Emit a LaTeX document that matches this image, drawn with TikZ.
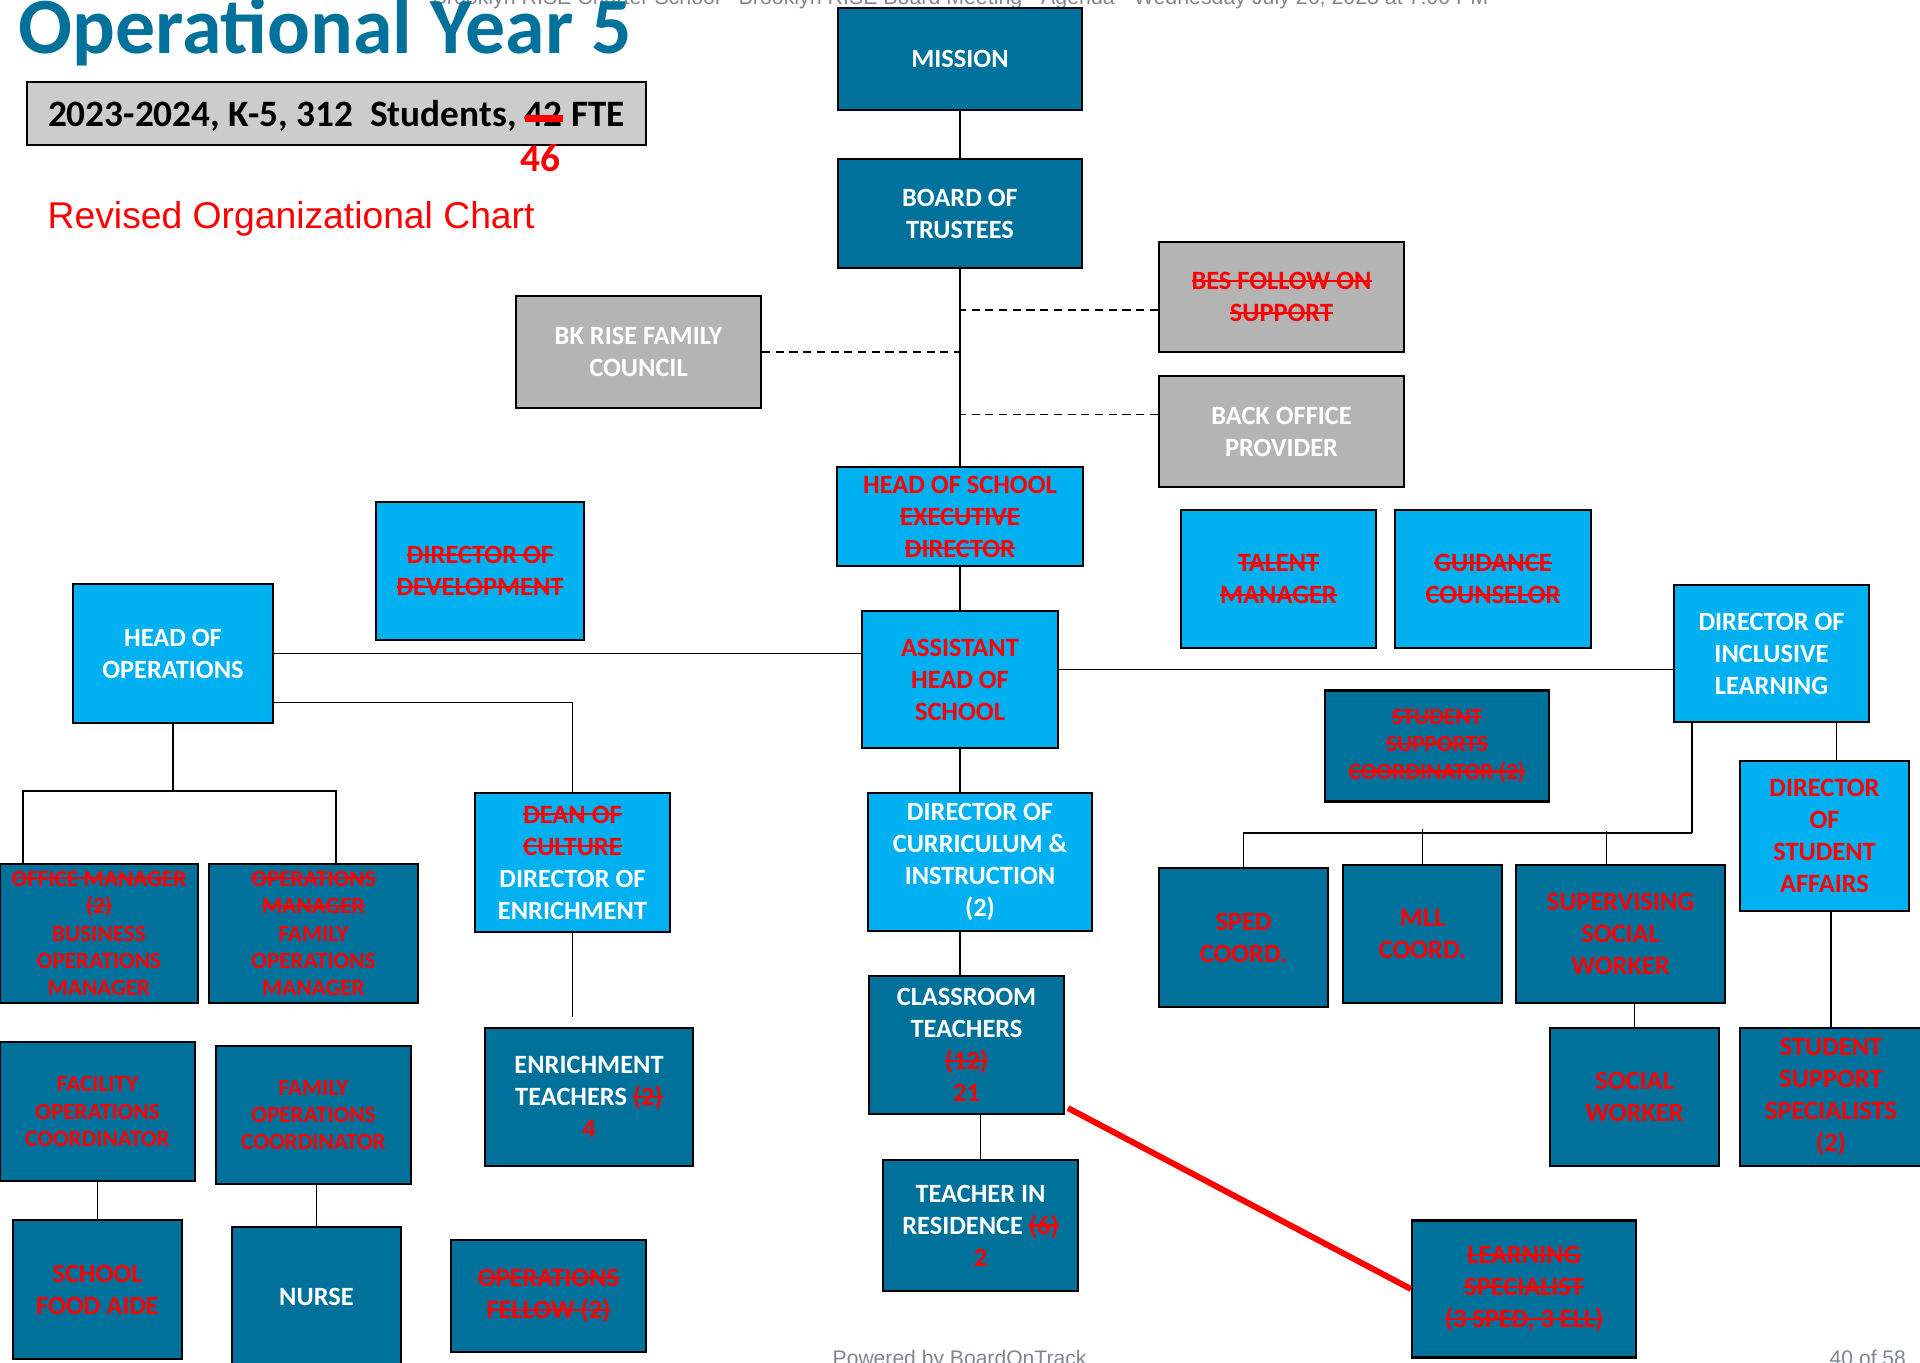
\documentclass[tikz,border=0pt]{standalone}
\usepackage{fontspec}
\setmainfont{Carlito}
\newfontfamily\arialfont{Liberation Sans}
\usetikzlibrary{calc}
\definecolor{darkteal}{RGB}{0,113,154}
\definecolor{skyblue}{RGB}{0,176,240}
\definecolor{boxgray}{RGB}{180,180,180}
\definecolor{statgray}{RGB}{204,204,204}
\definecolor{notegray}{RGB}{128,133,143}
\newsavebox{\strikebox}
\newcommand{\strk}[1]{\sbox{\strikebox}{#1}\usebox{\strikebox}\llap{\rule[0.29em]{\wd\strikebox}{0.6pt}}}
\newcommand{\redstrk}[1]{\sbox{\strikebox}{#1}\usebox{\strikebox}\llap{\textcolor{red}{\rule[1.4pt]{\wd\strikebox}{1.8pt}}}}
\newcommand{\boxfont}{\bfseries\fontsize{7.5}{9.1}\selectfont}
\newcommand{\smallboxfont}{\bfseries\fontsize{6.6}{7.8}\selectfont}
\newcommand{\rd}[1]{\textcolor{red}{#1}}
\tikzset{
  orgbox/.style={draw=black, line width=0.6pt, inner sep=0pt, align=center, text=white, font=\boxfont},
  darkbox/.style={orgbox, fill=darkteal},
  bluebox/.style={orgbox, fill=skyblue},
  greybox/.style={orgbox, fill=boxgray},
  redtext/.style={text=red},
  smalltext/.style={font=\smallboxfont},
  boxsize/.style 2 args={minimum width=#1*0.01cm, minimum height=#2*0.01cm},
  link/.style={line width=0.55pt},
  dashlink/.style={link, dash pattern=on 2.3pt off 1.6pt},
}

\begin{document}
\begin{tikzpicture}[x=0.01cm, y=-0.01cm]
\useasboundingbox (0,0) rectangle (1920,1362);
\clip (0,0) rectangle (1920,1362);
\node[anchor=base west, inner sep=0pt, text=notegray, font=\arialfont\fontsize{6.07}{7}\selectfont] (header) at (432,4) {Brooklyn RISE Charter School - Brooklyn RISE Board Meeting - Agenda - Wednesday July 26, 2023 at 7:00 PM};
\node[anchor=base west, inner sep=0pt, text=darkteal, font=\bfseries\fontsize{22.7}{26}\selectfont] (title) at (18,53) {Operational Year 5};
\node[draw=black, line width=0.6pt, fill=statgray, boxsize={619}{63}, inner sep=0pt, text depth=0pt, font=\bfseries\fontsize{10.6}{12}\selectfont] (stats) at (336.5,113.5) {2023-2024, K-5, 312~~Students, \redstrk{42} FTE};
\node[text=red, font=\bfseries\fontsize{11.2}{13}\selectfont] (fte) at (540,158.5) {46};
\node[anchor=base west, inner sep=0pt, text=red, font=\arialfont\fontsize{10.6}{12}\selectfont] (revised) at (47,228) {Revised Organizational Chart};

\node[darkbox, boxsize={244}{102}] (mission) at (960,59) {MISSION};
\node[darkbox, boxsize={244}{109}] (board) at (960,213.5) {BOARD OF\\TRUSTEES};
\node[greybox, redtext, boxsize={245}{110}] (bes) at (1281.5,297) {\strk{BES FOLLOW ON}\\\strk{SUPPORT}};
\node[greybox, boxsize={245}{111}] (backoffice) at (1281.5,431.5) {BACK OFFICE\\PROVIDER};
\node[greybox, boxsize={245}{112}] (council) at (638.5,352) {BK RISE FAMILY\\COUNCIL};
\node[bluebox, redtext, boxsize={246}{99}] (hos) at (960,516.5) {HEAD OF SCHOOL\\\strk{EXECUTIVE}\\\strk{DIRECTOR}};
\node[bluebox, redtext, boxsize={195}{138}] (talent) at (1278.5,579) {\strk{TALENT}\\\strk{MANAGER}};
\node[bluebox, redtext, boxsize={196}{138}] (guidance) at (1493,579) {\strk{GUIDANCE}\\\strk{COUNSELOR}};
\node[bluebox, redtext, boxsize={208}{138}] (devel) at (480,571) {\strk{DIRECTOR OF}\\\strk{DEVELOPMENT}};
\node[bluebox, redtext, boxsize={196}{137}] (ahs) at (960,679.5) {ASSISTANT\\HEAD OF\\SCHOOL};
\node[bluebox, boxsize={200}{139}] (ops) at (173,653.5) {HEAD OF\\OPERATIONS};
\node[bluebox, boxsize={195}{137}] (inclusive) at (1771.5,653.5) {DIRECTOR OF\\INCLUSIVE\\LEARNING};
\node[darkbox, redtext, smalltext, boxsize={224}{111}] (supports) at (1437,746) {\strk{STUDENT}\\\strk{SUPPORTS}\\\strk{COORDINATOR (2)}};
\node[darkbox, redtext, smalltext, boxsize={198}{139}] (business) at (99,933.5) {\strk{OFFICE MANAGER}\\\strk{(2)}\\BUSINESS\\OPERATIONS\\MANAGER};
\node[darkbox, redtext, smalltext, boxsize={209}{139}] (familyops) at (313.5,933.5) {\strk{OPERATIONS}\\\strk{MANAGER}\\FAMILY\\OPERATIONS\\MANAGER};
\node[bluebox, boxsize={195}{139}] (enrichdir) at (572.5,862.5) {\rd{\strk{DEAN OF}}\\\rd{\strk{CULTURE}}\\DIRECTOR OF\\ENRICHMENT};
\node[bluebox, boxsize={224}{138}] (curric) at (980,862) {DIRECTOR OF\\CURRICULUM \&\\INSTRUCTION\\(2)};
\node[darkbox, redtext, boxsize={169}{139}] (sped) at (1243.5,937.5) {SPED\\COORD.};
\node[darkbox, redtext, boxsize={159}{138}] (mll) at (1422.5,934) {MLL\\COORD.};
\node[darkbox, redtext, boxsize={209}{138}] (supsocial) at (1620.5,934) {SUPERVISING\\SOCIAL\\WORKER};
\node[bluebox, redtext, boxsize={169}{150}] (affairs) at (1824.5,836) {DIRECTOR\\OF\\STUDENT\\AFFAIRS};
\node[darkbox, redtext, smalltext, boxsize={195}{139}] (facility) at (97.5,1111.5) {FACILITY\\OPERATIONS\\COORDINATOR};
\node[darkbox, redtext, smalltext, boxsize={195}{138}] (familycoord) at (313.5,1115) {FAMILY\\OPERATIONS\\COORDINATOR};
\node[darkbox, boxsize={208}{138}] (enrichteach) at (589,1097) {ENRICHMENT\\TEACHERS \rd{\strk{(2)}}\\\rd{4}};
\node[darkbox, boxsize={195}{138}] (classroom) at (966.5,1045) {CLASSROOM\\TEACHERS\\\rd{\strk{(12)}}\\\rd{21}};
\node[darkbox, redtext, boxsize={169}{138}] (social) at (1634.5,1097) {SOCIAL\\WORKER};
\node[darkbox, redtext, boxsize={182}{138}] (specialists) at (1831,1097) {STUDENT\\SUPPORT\\SPECIALISTS\\(2)};
\node[darkbox, boxsize={195}{131}] (residence) at (980.5,1225.5) {TEACHER IN\\RESIDENCE \rd{\strk{(6)}}\\\rd{2}};
\node[darkbox, redtext, boxsize={224}{137}] (learning) at (1524,1289) {\strk{LEARNING}\\\strk{SPECIALIST}\\\strk{(3 SPED, 3 ELL)}};
\node[darkbox, redtext, boxsize={169}{139}] (foodaide) at (97.5,1289.5) {SCHOOL\\FOOD AIDE};
\node[darkbox, boxsize={169}{140}] (nurse) at (316.5,1297) {NURSE};
\node[darkbox, redtext, boxsize={195}{112}] (fellow) at (548.5,1296) {\strk{OPERATIONS}\\\strk{FELLOW (2)}};

\draw[link] (mission) -- (board);
\draw[link] (board) -- (hos);
\draw[dashlink] (council.east) -- (council.east -| board.south);
\draw[dashlink] ($(bes.west)+(0,13)$) -- ($(bes.west -| board.south)+(0,13)$);
\draw[dashlink] ($(backoffice.west)+(0,-17)$) -- ($(backoffice.west -| board.south)+(0,-17)$);
\draw[link] (hos) -- (ahs);
\draw[link] (ops.east) -- (ops.east -| ahs.west);
\draw[link] ($(ops.east)+(0,49)$) -| (enrichdir.north);
\draw[link] (ops.south) -- ++(0,67) coordinate (opsbar);
\draw[link] ($(business.north west)+(24,0)$) |- (opsbar) -| ($(familyops.north west)+(128,0)$);
\draw[link] (enrichdir.south) -- ++(0,84);
\draw[link] (ahs.south) -- (ahs.south |- curric.north);
\draw[link] (curric.south -| ahs.south) -- (classroom.north -| ahs.south);
\draw[link] (classroom.south -| residence.north) -- (residence.north);
\draw[red, line width=1.7pt] ($(classroom.south east)+(3,-7)$) -- (learning.west);
\draw[link] ($(ahs.east)+(0,-10)$) -- ($(ahs.east -| inclusive.west)+(0,-10)$);
\draw[link] ($(inclusive.south west)+(19,0)$) -- ++(0,110) coordinate (inclbar);
\draw[link] (inclbar) -| (sped.north);
\draw[link] (mll.north) -- ++(0,-35);
\draw[link] ($(supsocial.north)+(-14,0)$) -- ++(0,-33);
\draw[link] ($(affairs.north)+(12,0)$) -- ++(0,-38);
\draw[link] (specialists.north) -- (specialists.north |- affairs.south);
\draw[link] (social.north) -- (social.north |- supsocial.south);
\draw[link] (facility) -- (foodaide);
\draw[link] (nurse.north |- familycoord.south) -- (nurse.north);

\node[anchor=base west, inner sep=0pt, text=notegray, font=\arialfont\fontsize{6}{7}\selectfont] (powered) at (832,1365) {Powered by BoardOnTrack};
\node[anchor=base west, inner sep=0pt, text=notegray, font=\arialfont\fontsize{6}{7}\selectfont] (pageno) at (1829,1365) {40 of 58};
\end{tikzpicture}
\end{document}
